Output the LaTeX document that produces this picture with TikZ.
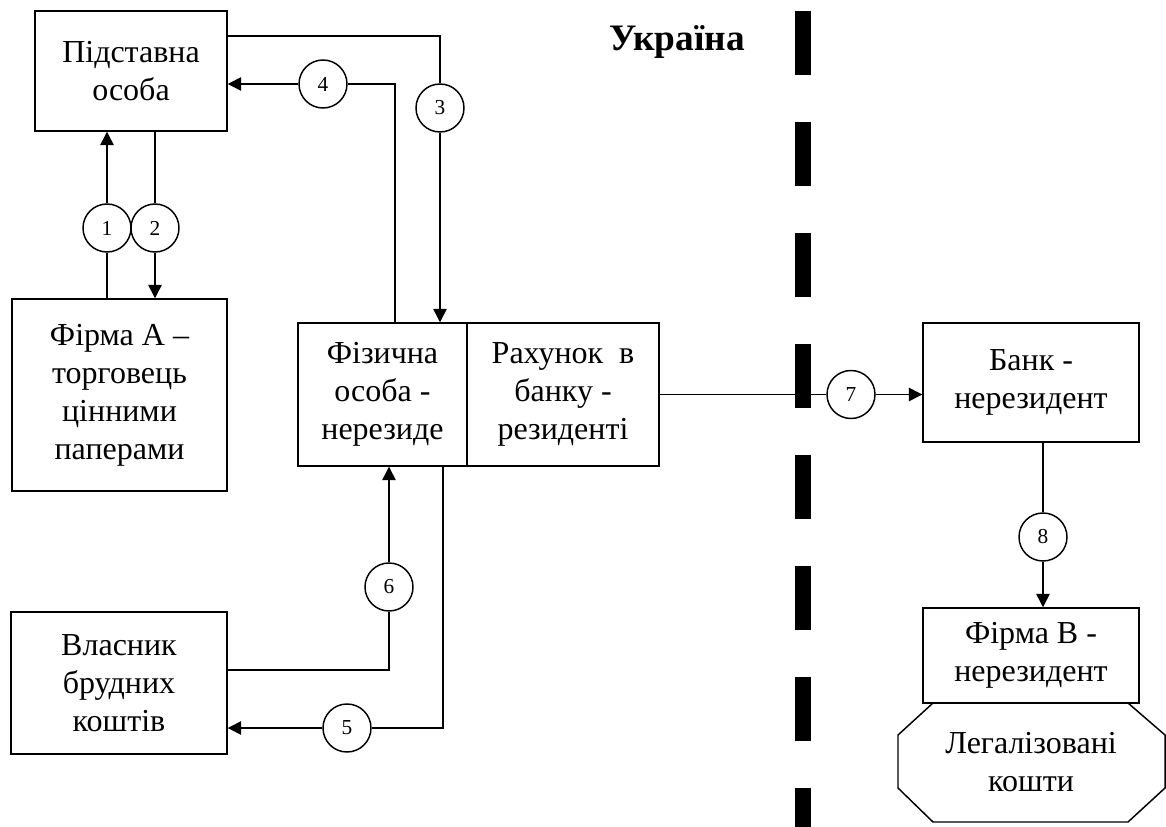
\documentclass[tikz,border=0pt]{standalone}
\usepackage{fontspec}
\setmainfont{Liberation Serif}
\usetikzlibrary{arrows.meta}

\begin{document}
\begin{tikzpicture}[x=0.75pt, y=-0.75pt, >={Triangle[length=10pt,width=10pt]}, line width=1.1pt,
  box/.style={draw, align=center, inner sep=0pt, font=\fontsize{24}{28.5}\selectfont},
  num/.style={draw, circle, fill=white, minimum size=36pt, inner sep=0pt, font=\fontsize{16}{16}\selectfont}]

  \useasboundingbox (0,0) rectangle (1166,827);

  % border
  \draw [line width=12pt, dash pattern=on 48pt off 35.25pt] (803,11) -- (803,860);
  \node [font=\bfseries\fontsize{28}{30}\selectfont] (ukr) at (677,42) {Україна};

  \node [box, minimum width=144pt, minimum height=90pt] (pid) at (131,71) {Підставна\\особа};
  \node [box, minimum width=161.25pt, minimum height=144pt] (firmA) at (119.5,395) {Фірма А --\\торговець\\цінними\\паперами};
  \node [box, minimum width=126.75pt, minimum height=107.25pt] (fiz) at (382.5,394.5) {Фізична\\особа -\\нерезиде};
  \node [box, minimum width=144pt, minimum height=107.25pt] (rah) at (563,394.5) {Рахунок\ \ в\\банку -\\резиденті};
  \node [box, minimum width=162pt, minimum height=106.5pt] (vlas) at (119,683) {Власник\\брудних\\коштів};
  \node [box, minimum width=162pt, minimum height=89.25pt] (bank) at (1031,382.5) {Банк -\\нерезидент};
  \node [box, minimum width=162pt, minimum height=71.25pt] (firmB) at (1031,655.5) {Фірма В -\\нерезидент};

  \draw (933,703) -- (1128,703) -- (1165,735) -- (1165,788) -- (1128,822) -- (933,822) -- (898,788) -- (898,735) -- cycle;
  \node [align=center, font=\fontsize{24}{28.5}\selectfont] (leg) at (1031,762) {Легалізовані\\кошти};

  \node [num] (c1) at (107,228) {1};
  \node [num] (c2) at (155,228) {2};
  \node [num] (c3) at (440,108) {3};
  \node [num] (c4) at (323,84) {4};
  \node [num] (c5) at (347,728) {5};
  \node [num] (c6) at (389,587) {6};
  \node [num] (c7) at (851,394.5) {7};
  \node [num] (c8) at (1043,537) {8};

  \coordinate (k3) at (440,36);
  \coordinate (k4) at (395,84);
  \coordinate (k5) at (443,728);
  \coordinate (k6) at (389,670);

  \draw (c1 |- firmA.north) -- (c1);
  \draw [->] (c1) -- (c1 |- pid.south);
  \draw (c2 |- pid.south) -- (c2);
  \draw [->] (c2) -- (c2 |- firmA.north);

  \draw (k3 -| pid.east) -- (k3) -- (c3);
  \draw [->] (c3) -- (c3 |- fiz.north);

  \draw (k4 |- fiz.north) -- (k4) -- (c4);
  \draw [->] (c4) -- (c4 -| pid.east);

  \draw (k5 |- fiz.south) -- (k5) -- (c5);
  \draw [->] (c5) -- (c5 -| vlas.east);

  \draw (k6 -| vlas.east) -- (k6) -- (c6);
  \draw [->] (c6) -- (c6 |- fiz.south);

  \draw (rah.east) -- (c7);
  \draw [->] (c7) -- (c7 -| bank.west);

  \draw (c8 |- bank.south) -- (c8);
  \draw [->] (c8) -- (c8 |- firmB.north);

\end{tikzpicture}
\end{document}
